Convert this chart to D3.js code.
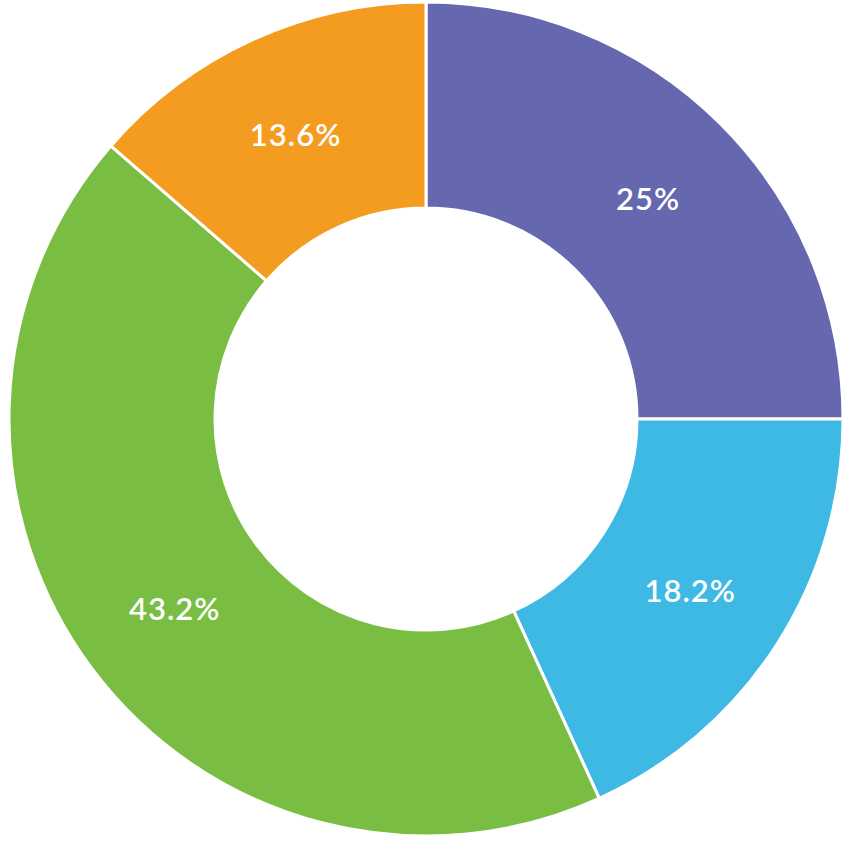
<!DOCTYPE html>
<html><head><meta charset="utf-8">
<script src="https://cdn.jsdelivr.net/npm/d3@7"></script>
<style>html,body{margin:0;padding:0;background:#fff;}</style>
</head><body>
<svg id="chart" width="850" height="842"></svg>
<script>
const categories = ["A", "B", "C", "D"];
const values = [11, 8, 19, 6];
const labels = ["25%", "18.2%", "43.2%", "13.6%"];
const colors = ["#6568AF", "#3DB9E3", "#79BE43", "#F49C20"];

const svg = d3.select("#chart");
const cx = 426, cy = 419, outerR = 417, innerR = 211;
const g = svg.append("g").attr("transform", `translate(${cx},${cy})`);
const data = categories.map((c, i) => ({c, v: values[i], label: labels[i], color: colors[i]}));
const pie = d3.pie().value(d => d.v).sort(null);
const arc = d3.arc().innerRadius(innerR).outerRadius(outerR);
const arcs = pie(data);
g.selectAll("path").data(arcs).join("path")
  .attr("d", arc).attr("fill", d => d.data.color)
  .attr("stroke", "#fff").attr("stroke-width", 3);
g.selectAll("text").data(arcs).join("text")
  .attr("transform", d => { const c = arc.centroid(d); return `translate(${c[0]},${c[1] + 2})`; })
  .attr("text-anchor", "middle").attr("dy", "0.35em")
  .attr("fill", "#fff").attr("font-family", "Lato, sans-serif")
  .attr("font-weight", 600).attr("font-size", 31)
  .attr("letter-spacing", 1)
  .text(d => d.data.label);
</script>
</body></html>
